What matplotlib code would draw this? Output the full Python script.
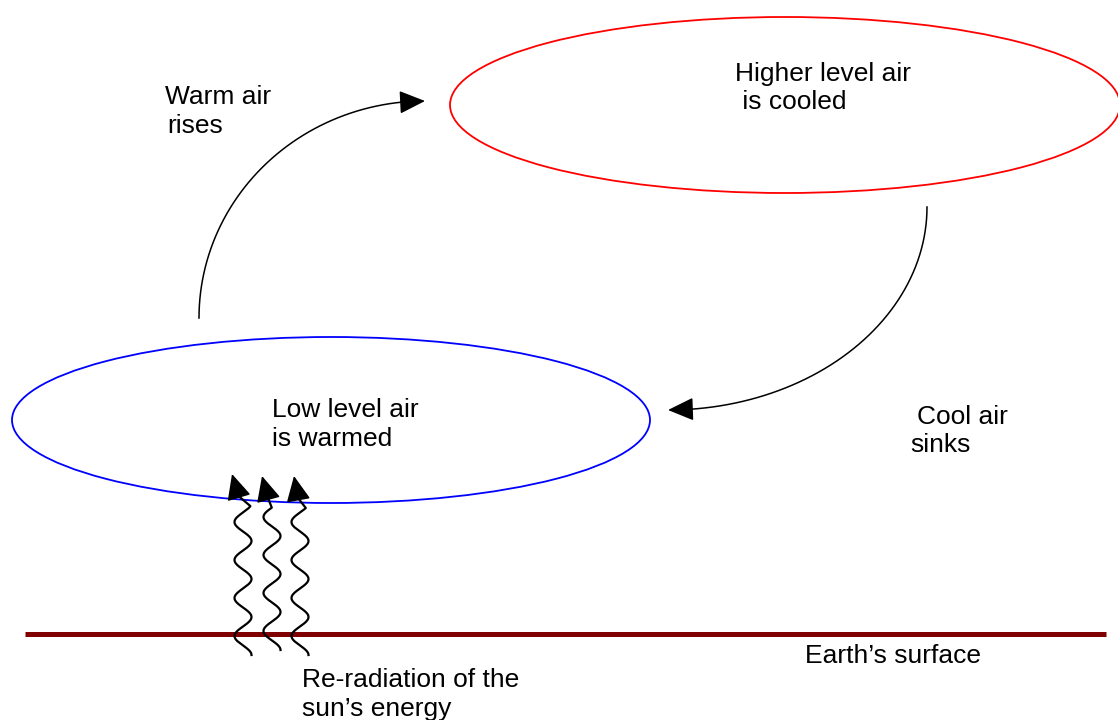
import numpy as np
import matplotlib
matplotlib.use("Agg")
import matplotlib.pyplot as plt
from matplotlib.patches import Ellipse

plt.rcParams["font.family"] = ["Liberation Sans", "DejaVu Sans"]

# canvas in pixel units (y grows downwards)
W, H = 1118, 720

# air masses: centre x, centre y, width, height, colour
cell_cx = [331, 785]
cell_cy = [420, 105]
cell_w = [638, 670]
cell_h = [166, 176]
cell_color = ["#0000ff", "#ff0000"]

# curved circulation arrows: quarter ellipses (centre, radii, start/end angle)
arc_cx = [425, 668]
arc_cy = [318, 207]
arc_rx = [226, 259]
arc_ry = [217, 203]
arc_t0 = [np.pi, 0.0]
arc_t1 = [1.5 * np.pi, 0.5 * np.pi]

# wavy re-radiation arrows
wave_cx = [243, 272, 300]
wave_bottom = [655, 650, 655]
wave_tip_x = [232, 262, 294]
wave_tip_y = [474, 476, 476]
wave_amp = 8.5
wave_period = 38

# ground line
ground_x = [25, 1106]
ground_y = 634

# text lines: x, baseline y, text
label_x = [165, 167, 735, 735, 272, 272, 917, 910, 805, 302, 302]
label_y = [104, 133, 81, 109, 417, 446, 424, 452, 663, 687, 716]
label_text = ["Warm air", "rises",
              "Higher level air", " is cooled",
              "Low level air", "is warmed",
              "Cool air", "sinks",
              "Earth\u2019s surface",
              "Re-radiation of the", "sun\u2019s energy"]


def head(ax, p0, p1, hl, hw, scale=20):
    ax.annotate("", xy=p1, xytext=p0,
                arrowprops=dict(arrowstyle=f"-|>,head_length={hl},head_width={hw}",
                                mutation_scale=scale, shrinkA=0, shrinkB=0,
                                color="black", lw=1.1))


fig = plt.figure(figsize=(W / 100, H / 100), dpi=100)
ax = fig.add_axes([0, 0, 1, 1])
ax.set_xlim(0, W)
ax.set_ylim(H, 0)
ax.axis("off")

for cx, cy, w, h, c in zip(cell_cx, cell_cy, cell_w, cell_h, cell_color):
    ax.add_patch(Ellipse((cx, cy), w, h, fill=False, edgecolor=c, lw=1.3))

# circulation arcs
for cx, cy, rx, ry, t0, t1 in zip(arc_cx, arc_cy, arc_rx, arc_ry, arc_t0, arc_t1):
    dt = 24.0 / max(rx, ry) * np.sign(t1 - t0)
    t = np.linspace(t0, t1 - dt, 200)
    ax.plot(cx + rx * np.cos(t), cy + ry * np.sin(t), color="black", lw=1.1)
    p0 = (cx + rx * np.cos(t1 - dt), cy + ry * np.sin(t1 - dt))
    p1 = (cx + rx * np.cos(t1), cy + ry * np.sin(t1))
    head(ax, p0, p1, 0.8, 0.36)

# ground
ax.plot(ground_x, [ground_y, ground_y], color="#800000", lw=3.6,
        solid_capstyle="butt")

# wavy arrows
for cx, yb, tx, ty in zip(wave_cx, wave_bottom, wave_tip_x, wave_tip_y):
    ytop = ty + 22
    y = np.linspace(yb, ytop, 300)
    x = cx + wave_amp * np.sin(2 * np.pi * (yb - y) / wave_period + np.pi / 2)
    # ease the top of the wave into the arrow head
    x[-20:] = np.linspace(x[-20], (cx + tx) / 2 + 1, 20)
    ax.plot(x, y, color="black", lw=1.6)
    head(ax, (x[-1], y[-1]), (tx, ty), 0.8, 0.38, scale=20)

for x, y, s in zip(label_x, label_y, label_text):
    ax.text(x, y, s, fontsize=19, color="black", ha="left", va="baseline")

fig.savefig("out.png", dpi=100)
